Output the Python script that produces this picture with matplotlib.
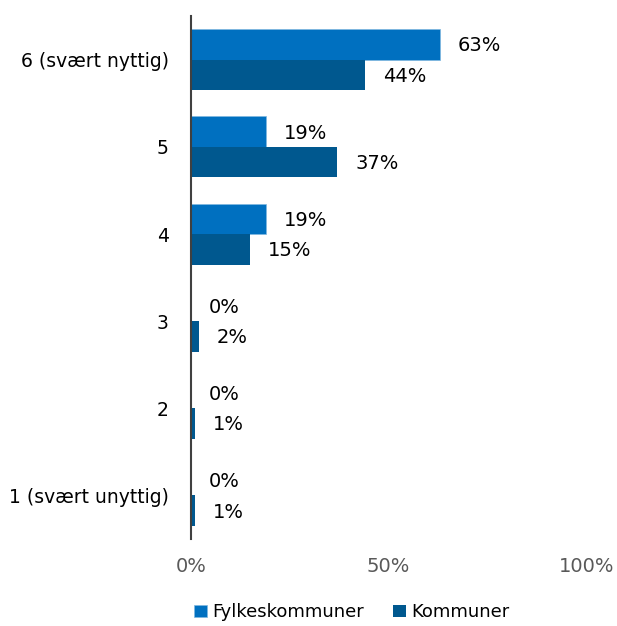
import numpy as np
import matplotlib.pyplot as plt
from matplotlib.ticker import FuncFormatter

categories = ["1 (svært unyttig)", "2", "3", "4", "5", "6 (svært nyttig)"]
fylkeskommuner = [0, 0, 0, 19, 19, 63]
kommuner = [1, 1, 2, 15, 37, 44]

light_blue = "#0070C0"
dark_blue = "#00588F"

plt.rcParams["font.family"] = ["DejaVu Sans"]

fig = plt.figure(figsize=(6.17, 6.26), dpi=100)
ax = fig.add_axes([0.3096, 0.139, 0.6404, 0.835])

y = np.arange(len(categories))
h = 0.35

bars_f = ax.barh(y + h / 2, fylkeskommuner, height=h, color=light_blue,
                 edgecolor="#7fb7df", linewidth=0.5, label="Fylkeskommuner")
bars_k = ax.barh(y - h / 2, kommuner, height=h, color=dark_blue,
                 label="Kommuner")

# value labels just right of each bar
for bars, vals in [(bars_f, fylkeskommuner), (bars_k, kommuner)]:
    for bar, v in zip(bars, vals):
        ax.annotate(f"{v}%", (v, bar.get_y() + bar.get_height() / 2),
                    xytext=(13, -1), textcoords="offset points",
                    ha="left", va="center", fontsize=14, color="black")

ax.set_xlim(0, 100)
ax.set_ylim(-0.5, len(categories) - 0.5)
ax.set_xticks([0, 50, 100])
ax.xaxis.set_major_formatter(FuncFormatter(lambda v, _: f"{v:.0f}%"))
ax.set_yticks(y)
ax.set_yticklabels(categories)

ax.tick_params(axis="x", length=0, labelsize=14, labelcolor="#595959", pad=13)
ax.tick_params(axis="y", length=0, labelsize=13.5, pad=16)

for side in ["top", "right", "bottom"]:
    ax.spines[side].set_visible(False)
ax.spines["left"].set_color("#404040")
ax.spines["left"].set_linewidth(1.5)

fig.legend(loc="center", bbox_to_anchor=(0.57, 0.022), ncol=2, frameon=False,
           fontsize=13, handlelength=0.7, handleheight=0.7,
           handletextpad=0.3, columnspacing=1.6)

fig.savefig("out.png", dpi=100)
